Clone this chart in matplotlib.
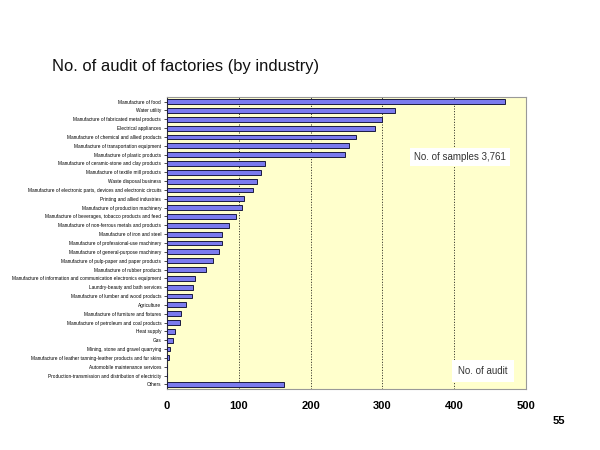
import matplotlib.pyplot as plt

plt.rcParams['font.family'] = ['Liberation Sans', 'DejaVu Sans']

# industries from top to bottom
industries = [
    "Manufacture of food",
    "Water utility",
    "Manufacture of fabricated metal products",
    "Electrical appliances",
    "Manufacture of chemical and allied products",
    "Manufacture of transportation equipment",
    "Manufacture of plastic products",
    "Manufacture of ceramic-stone and clay products",
    "Manufacture of textile mill products",
    "Waste disposal business",
    "Manufacture of electronic parts, devices and electronic circuits",
    "Printing and allied industries",
    "Manufacture of production machinery",
    "Manufacture of beverages, tobacco products and feed",
    "Manufacture of non-ferrous metals and products",
    "Manufacture of iron and steel",
    "Manufacture of professional-use machinery",
    "Manufacture of general-purpose machinery",
    "Manufacture of pulp-paper and paper products",
    "Manufacture of rubber products",
    "Manufacture of information and communication electronics equipment",
    "Laundry-beauty and bath services",
    "Manufacture of lumber and wood products",
    "Agriculture",
    "Manufacture of furniture and fixtures",
    "Manufacture of petroleum and coal products",
    "Heat supply",
    "Gas",
    "Mining, stone and gravel quarrying",
    "Manufacture of leather tanning-leather products and fur skins",
    "Automobile maintenance services",
    "Production-transmission and distribution of electricity",
    "Others",
]
audits = [471, 318, 300, 290, 263, 254, 248, 137, 131, 126, 120, 107, 104,
          96, 87, 77, 77, 73, 64, 55, 39, 36, 35, 27, 20, 19, 12, 8, 5, 3,
          0, 0, 163]

fig = plt.figure(figsize=(6, 4.5), dpi=100)
ax = fig.add_axes([0.278, 0.136, 0.599, 0.648])
ax.set_facecolor('#FFFFCC')

pos = range(len(industries))
ax.barh(pos, audits, height=0.55, color='#7B7BEE', edgecolor='#1a1a40', linewidth=0.7, zorder=3)
ax.set_ylim(len(industries) - 0.5, -0.5)
ax.set_xlim(0, 500)
ax.set_xticks([0, 100, 200, 300, 400, 500])
ax.set_yticks(list(pos))
ax.set_yticklabels(industries, fontsize=3.4)
ax.tick_params(axis='y', length=2, width=0.5, pad=2)
ax.tick_params(axis='x', length=0, labelsize=8, pad=9)
for lbl in ax.get_xticklabels():
    lbl.set_fontweight('bold')

for v in [100, 200, 300, 400]:
    ax.axvline(v, color='black', linestyle=(0, (1.2, 2)), linewidth=0.6, zorder=2)

for s in ['top', 'right', 'bottom']:
    ax.spines[s].set_color('#999999')
ax.spines['left'].set_color('#333333')

ax.text(0.816, 0.795, "No. of samples 3,761", transform=ax.transAxes, ha='center', va='center',
        fontsize=7, color='#333333', zorder=5,
        bbox=dict(facecolor='white', edgecolor='none', pad=3))
ax.text(0.88, 0.06, "No. of audit", transform=ax.transAxes, ha='center', va='center',
        fontsize=7, color='#333333', zorder=5,
        bbox=dict(facecolor='white', edgecolor='none', boxstyle='square,pad=0.6'))

fig.text(0.087, 0.843, "No. of audit of factories (by industry)", fontsize=11.9, color='#111111')
fig.text(0.921, 0.057, "55", fontsize=8, fontweight='bold')

fig.savefig('out.png', dpi=100)
